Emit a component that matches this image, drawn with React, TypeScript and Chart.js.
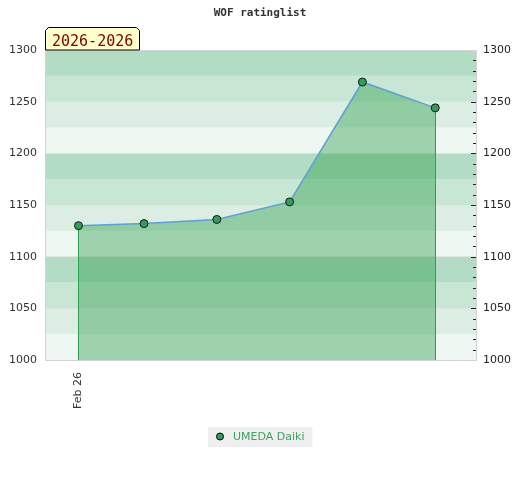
import React, { useEffect, useRef } from "react";
import { Chart, registerables } from "chart.js";

Chart.register(...registerables);

const chartTitle = "WOF ratinglist";
const periodLabel = "2026-2026";
const playerName = "UMEDA Daiki";
const xValues = [0, 9, 19, 29, 39, 49];
const ratings = [1130, 1132, 1136, 1153, 1269, 1244];
const xTickValues = [0];
const xTickLabels = ["Feb 26"];
const yMin = 1000;
const yMax = 1300;
const yStep = 50;
const bandStep = 25;
const minorStep = 10;
const bandColors = ["#eff7f2", "#dcede3", "#c8e6d4", "#b2dcc3"];

const decorPlugin = {
  id: "decor",
  beforeDraw(chart: any) {
    const { ctx, chartArea, scales } = chart;
    const y = scales.y;
    ctx.save();
    for (let v = yMin; v < yMax; v += bandStep) {
      const idx = Math.round(v / bandStep) % 4;
      const top = y.getPixelForValue(v + bandStep);
      const bot = y.getPixelForValue(v);
      ctx.fillStyle = bandColors[idx];
      ctx.fillRect(chartArea.left, top, chartArea.right - chartArea.left, bot - top);
    }
    ctx.restore();
  },
  beforeDatasetDraw(chart: any, args: any) {
    const { ctx, chartArea } = chart;
    const meta = chart.getDatasetMeta(args.index);
    const pts = meta.data;
    if (!pts.length) return;
    ctx.save();
    ctx.strokeStyle = "#2e9e50";
    ctx.lineWidth = 1;
    [pts[0], pts[pts.length - 1]].forEach((p: any) => {
      const x = Math.round(p.x) + 0.5;
      ctx.beginPath();
      ctx.moveTo(x, p.y);
      ctx.lineTo(x, chartArea.bottom);
      ctx.stroke();
    });
    ctx.restore();
  },
  afterDraw(chart: any) {
    const { ctx, chartArea, scales } = chart;
    const y = scales.y;
    ctx.save();
    ctx.strokeStyle = "#d4d4d4";
    ctx.lineWidth = 1;
    ctx.beginPath();
    ctx.moveTo(chartArea.left, chartArea.top + 0.5);
    ctx.lineTo(chartArea.right, chartArea.top + 0.5);
    ctx.stroke();
    ctx.strokeStyle = "#222";
    for (let v = yMin + minorStep; v < yMax; v += minorStep) {
      const py = Math.round(y.getPixelForValue(v)) + 0.5;
      const len = v % yStep === 0 ? 5 : 3;
      ctx.beginPath();
      ctx.moveTo(chartArea.right - len, py);
      ctx.lineTo(chartArea.right, py);
      ctx.stroke();
    }
    ctx.fillStyle = "#333";
    ctx.font = 'bold 11px "DejaVu Sans Mono"';
    ctx.textAlign = "center";
    ctx.textBaseline = "middle";
    ctx.fillText(chartTitle, 260, 13.5);
    const bl = chartArea.left;
    const br = bl + 95;
    const bt = 27;
    const bb = chartArea.top;
    ctx.beginPath();
    ctx.moveTo(bl + 0.5, bb);
    ctx.lineTo(bl + 0.5, bt + 3.5);
    ctx.lineTo(bl + 3.5, bt + 0.5);
    ctx.lineTo(br - 3.5, bt + 0.5);
    ctx.lineTo(br - 0.5, bt + 3.5);
    ctx.lineTo(br - 0.5, bb);
    ctx.closePath();
    ctx.fillStyle = "#ffffcc";
    ctx.fill();
    ctx.strokeStyle = "#000";
    ctx.stroke();
    ctx.fillStyle = "#800000";
    ctx.font = '15px "DejaVu Sans Mono"';
    ctx.textAlign = "left";
    ctx.textBaseline = "alphabetic";
    ctx.fillText(periodLabel, bl + 7, 46);
    ctx.font = '11px "DejaVu Sans"';
    const tw = ctx.measureText(playerName).width;
    const lw = tw + 33;
    const lx = Math.round(260 - lw / 2);
    ctx.fillStyle = "#efefef";
    ctx.fillRect(lx, 427, lw, 20);
    ctx.beginPath();
    ctx.arc(lx + 12, 436.5, 3.5, 0, Math.PI * 2);
    ctx.fillStyle = "#2e9e58";
    ctx.fill();
    ctx.strokeStyle = "#000";
    ctx.stroke();
    ctx.fillStyle = "#3aa35f";
    ctx.textBaseline = "middle";
    ctx.fillText(playerName, lx + 25, 437.5);
    ctx.restore();
  },
};

const plainNumber = (v: any) => String(v);

export default function App() {
  const ref = useRef<HTMLCanvasElement>(null);
  useEffect(() => {
    const canvas = ref.current!;
    const chart = new Chart(canvas, {
      type: "line",
      data: {
        datasets: [
          {
            label: playerName,
            data: xValues.map((x, i) => ({ x, y: ratings[i] })),
            borderColor: "#5aa0dc",
            borderWidth: 1.5,
            backgroundColor: "rgba(34,154,68,0.4)",
            fill: "origin",
            tension: 0,
            pointRadius: 4,
            pointBackgroundColor: "#2e9e58",
            pointBorderColor: "#1a1a1a",
            pointBorderWidth: 1,
          },
        ],
      },
      options: {
        animation: false,
        responsive: false,
        devicePixelRatio: 1,
        layout: { padding: { top: 50, left: 0, right: 0, bottom: 0 } },
        plugins: {
          legend: { display: false },
          title: { display: false },
          tooltip: { enabled: false },
        },
        scales: {
          x: {
            type: "linear",
            min: -4.6,
            max: 54.6,
            afterBuildTicks: (scale: any) => {
              scale.ticks = xTickValues.map((v) => ({ value: v }));
            },
            afterFit: (scale: any) => {
              scale.height = 120;
            },
            grid: { display: false, drawTicks: false },
            border: { display: true, color: "#d4d4d4" },
            ticks: {
              autoSkip: false,
              minRotation: 90,
              maxRotation: 90,
              padding: 12,
              color: "#333",
              font: { family: "DejaVu Sans", size: 11 },
              callback: (v: any) => {
                const i = xTickValues.indexOf(Number(v));
                return i >= 0 ? xTickLabels[i] : "";
              },
            },
          },
          y: {
            position: "left",
            min: yMin,
            max: yMax,
            afterFit: (scale: any) => {
              scale.width = 45;
            },
            grid: { color: "rgba(225,225,225,0.8)", drawTicks: false },
            border: { display: true, color: "#d4d4d4" },
            ticks: {
              stepSize: yStep,
              padding: 8,
              color: "#333",
              font: { family: "DejaVu Sans", size: 11 },
              callback: plainNumber,
            },
          },
          y2: {
            position: "right",
            min: yMin,
            max: yMax,
            afterFit: (scale: any) => {
              scale.width = 44;
            },
            grid: { display: false, drawTicks: false },
            border: { display: true, color: "#d4d4d4" },
            ticks: {
              stepSize: yStep,
              padding: 7,
              color: "#222",
              font: { family: "DejaVu Sans", size: 11 },
              callback: plainNumber,
            },
          },
        },
      },
      plugins: [decorPlugin],
    } as any);
    return () => chart.destroy();
  }, []);
  return (
    <div style={{ position: "fixed", left: 0, top: 0, width: 520, height: 480, background: "#fff" }}>
      <canvas ref={ref} width={520} height={480} />
    </div>
  );
}
